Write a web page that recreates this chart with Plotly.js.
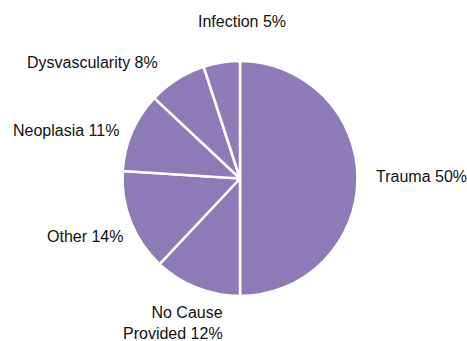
<!DOCTYPE html>
<html>
<head>
<meta charset="utf-8">
<script src="https://cdn.plot.ly/plotly-3.0.1.min.js"></script>
<style>
html,body{margin:0;padding:0;background:#fff;}
#chart{width:467px;height:341px;}
</style>
</head>
<body>
<div id="chart"></div>
<script>
// Data
const categories = ["Trauma", "No Cause<br>Provided", "Other", "Neoplasia", "Dysvascularity", "Infection"];
const percents = [50, 12, 14, 11, 8, 5];

// Label layout (pixel anchors of each label, not data)
const W = 467, H = 341;
const labelAnchors = [
  {x: 374, y: 176, xa: "left"},
  {x: 225, y: 323, xa: "right"},
  {x: 125, y: 236, xa: "right"},
  {x: 121, y: 130, xa: "right"},
  {x: 160, y: 62.5, xa: "right"},
  {x: 242, y: 22, xa: "center"}
];

const cx = 240, cy = 178.5, R = 117.5;

const trace = {
  type: "pie",
  values: percents,
  labels: categories,
  sort: false,
  direction: "clockwise",
  rotation: 0,
  textinfo: "none",
  hoverinfo: "label+percent",
  marker: {
    colors: percents.map(() => "#8d7bb8"),
    line: {color: "#ffffff", width: 2.5}
  },
  domain: {
    x: [(cx - R) / W, (cx + R) / W],
    y: [(H - cy - R) / H, (H - cy + R) / H]
  },
  showlegend: false
};

const annotations = categories.map((c, i) => ({
  xref: "paper", yref: "paper",
  x: labelAnchors[i].x / W,
  y: 1 - labelAnchors[i].y / H,
  xanchor: labelAnchors[i].xa,
  yanchor: "middle",
  align: labelAnchors[i].xa === "center" ? "center" : "right",
  text: c + " " + percents[i] + "%",
  showarrow: false,
  font: {family: "Liberation Sans, Arial, Helvetica, sans-serif", size: 16, color: "#111111"}
}));

const layout = {
  width: W, height: H,
  margin: {l: 0, r: 0, t: 0, b: 0},
  paper_bgcolor: "#ffffff",
  plot_bgcolor: "#ffffff",
  annotations: annotations
};

Plotly.newPlot("chart", [trace], layout, {displayModeBar: false, staticPlot: true});
</script>
</body>
</html>
